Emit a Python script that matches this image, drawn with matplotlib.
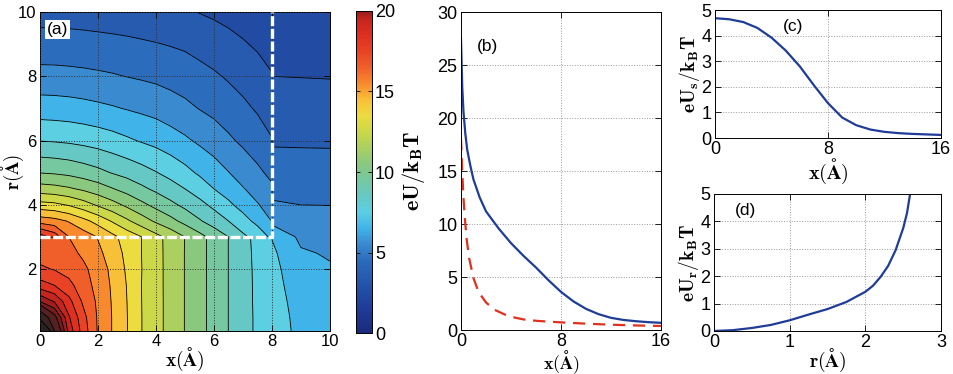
import numpy as np
import matplotlib
matplotlib.use("Agg")
import matplotlib.pyplot as plt
from matplotlib.colors import LinearSegmentedColormap, Normalize
from matplotlib.cm import ScalarMappable

plt.rcParams['font.family'] = ['Liberation Sans', 'DejaVu Sans']
plt.rcParams['mathtext.fontset'] = 'cm'
plt.rcParams['xtick.direction'] = 'in'
plt.rcParams['ytick.direction'] = 'in'

# ---- panel (a): potential map, U(x, r) ----
x_grid = [0, 0.5, 1, 1.5, 2, 2.5, 3, 3.5, 4, 4.5, 5, 5.5, 6, 6.5, 7, 7.5, 7.99, 8.01, 9, 10]
r_grid = [0.08, 0.5, 1, 1.5, 2, 2.5, 2.99, 3.01, 3.5, 4, 4.5, 5, 6, 7, 8, 9, 10]
U_grid = [
    [40, 24, 19.6, 17.5, 15.9, 14.95, 14.04, 13.02, 12.34, 11.66, 10.97, 10.32, 9.66, 8.99, 8.35, 7.84, 7.49, 7.48, 6.75, 6.45],
    [26, 22.5, 19.1, 17.3, 15.88, 14.95, 14.03, 13.02, 12.34, 11.66, 10.97, 10.32, 9.66, 8.99, 8.35, 7.84, 7.48, 7.47, 6.7, 6.4],
    [20.95, 19.9, 18.3, 16.8, 15.82, 14.91, 14.0, 13.01, 12.34, 11.66, 10.97, 10.32, 9.66, 8.99, 8.35, 7.82, 7.45, 7.43, 6.6, 6.33],
    [18.44, 18.0, 17.3, 16.4, 15.7, 14.85, 13.96, 13.0, 12.33, 11.66, 10.97, 10.32, 9.66, 8.99, 8.35, 7.81, 7.4, 7.38, 6.45, 6.22],
    [17.17, 16.95, 16.6, 16.2, 15.56, 14.74, 13.86, 13.02, 12.33, 11.66, 10.97, 10.32, 9.66, 8.99, 8.35, 7.79, 7.33, 7.31, 6.3, 6.1],
    [16.6, 16.5, 16.3, 15.82, 15.24, 14.52, 13.75, 13.0, 12.32, 11.66, 10.97, 10.32, 9.66, 8.99, 8.35, 7.75, 7.2, 7.18, 6.12, 5.9],
    [16.5, 16.4, 16.0, 15.5, 14.95, 14.25, 13.6, 13.0, 12.3, 11.66, 10.98, 10.32, 9.65, 8.99, 8.35, 7.68, 7.0, 6.95, 5.78, 5.61],
    [18.5, 17.6, 16.0, 15.5, 14.95, 14.25, 13.6, 13.0, 12.3, 11.66, 10.98, 10.32, 9.65, 8.99, 8.2, 7.6, 6.8, 6.9, 5.77, 5.6],
    [15.57, 15.35, 14.92, 14.29, 13.64, 12.9, 12.17, 11.47, 10.84, 10.3, 9.7, 9.1, 8.54, 8.0, 7.36, 6.73, 5.98, 5.67, 5.38, 5.3],
    [13.38, 13.25, 12.92, 12.44, 11.88, 11.36, 10.8, 10.24, 9.73, 9.24, 8.77, 8.29, 7.77, 7.19, 6.65, 6.07, 5.57, 5.1, 5.0, 4.99],
    [11.45, 11.34, 11.13, 10.83, 10.47, 10.05, 9.64, 9.2, 8.8, 8.42, 8.0, 7.54, 7.0, 6.58, 6.06, 5.62, 5.16, 4.76, 4.7, 4.7],
    [9.98, 9.9, 9.76, 9.53, 9.27, 8.95, 8.68, 8.38, 8.05, 7.69, 7.29, 6.86, 6.47, 6.03, 5.61, 5.19, 4.78, 4.45, 4.42, 4.41],
    [7.97, 7.92, 7.84, 7.72, 7.57, 7.38, 7.15, 6.92, 6.71, 6.44, 6.16, 5.84, 5.52, 5.16, 4.82, 4.5, 4.06, 3.89, 3.88, 3.87],
    [6.49, 6.46, 6.41, 6.32, 6.21, 6.09, 5.95, 5.81, 5.67, 5.46, 5.23, 4.97, 4.75, 4.5, 4.21, 3.89, 3.55, 3.44, 3.43, 3.42],
    [5.33, 5.32, 5.28, 5.23, 5.16, 5.08, 4.98, 4.89, 4.79, 4.65, 4.51, 4.33, 4.13, 3.89, 3.64, 3.36, 3.05, 3.0, 2.98, 2.96],
    [4.42, 4.41, 4.39, 4.35, 4.31, 4.26, 4.2, 4.12, 4.04, 3.95, 3.85, 3.66, 3.47, 3.28, 3.08, 2.88, 2.7, 2.65, 2.62, 2.6],
    [3.6, 3.6, 3.58, 3.55, 3.5, 3.45, 3.4, 3.35, 3.3, 3.2, 3.1, 2.97, 2.85, 2.72, 2.6, 2.48, 2.35, 2.3, 2.3, 2.28],
]
channel_x = [0, 8, 8]
channel_r = [3, 3, 10]

# ---- panel (b): on-axis potential ----
xb_total = [0, 0.1, 0.2, 0.35, 0.5, 0.75, 1.0, 1.5, 2.0, 3.0, 4.0, 5.0, 6.0, 7.0, 8.0,
            9.0, 10.0, 11.0, 12.0, 13.0, 14.0, 15.0, 16.0]
Ub_total = [27.5, 23.0, 20.6, 18.5, 17.0, 15.5, 14.2, 12.5, 11.2, 9.6, 8.2, 7.0, 5.9, 4.7, 3.6,
            2.7, 2.0, 1.5, 1.15, 0.95, 0.83, 0.74, 0.68]
xb_bulk = [0, 0.1, 0.2, 0.3, 0.45, 0.65, 1.0, 1.4, 2.0, 2.7, 3.8, 5.0, 6.0, 8.0, 10.0, 12.0, 14.0, 16.0]
Ub_bulk = [18.1, 14.9, 12.5, 10.7, 8.6, 6.8, 4.9, 3.6, 2.6, 1.9, 1.3, 1.0, 0.87, 0.72, 0.6, 0.5, 0.43, 0.38]

# ---- panel (c) ----
xc = [0, 1, 2, 3, 4, 5, 6, 7, 8, 9, 10, 11, 12, 13, 14, 15, 16]
Uc = [4.68, 4.64, 4.53, 4.3, 3.92, 3.42, 2.8, 2.06, 1.36, 0.8, 0.5, 0.33, 0.24, 0.19, 0.16, 0.14, 0.12]

# ---- panel (d) ----
rd = [0, 0.25, 0.5, 0.75, 1.0, 1.25, 1.5, 1.75, 2.0, 2.1, 2.2, 2.3, 2.4, 2.5, 2.55, 2.6]
Ud = [0, 0.03, 0.11, 0.22, 0.39, 0.6, 0.8, 1.06, 1.43, 1.65, 1.97, 2.37, 2.95, 3.75, 4.3, 5.15]

# colours
cb_vals = [0, 1.5, 3, 4.5, 5.5, 6.5, 7.5, 8.5, 9.5, 10.5, 11.5, 12.5, 13.5, 14.5,
           15.5, 16.5, 17.5, 18.5, 19.5, 20]
cb_cols = ['#1b2a7c', '#1f3c98', '#2354aa', '#2c6cbc', '#3a8ad0', '#40b4e8', '#5ccfe4',
           '#66c8c4', '#76c8a0', '#8ac880', '#aad060', '#cad848', '#ecdc40', '#f8c038',
           '#f88a2c', '#f0602a', '#e84424', '#de3020', '#c8261e', '#9a1c1c']
cmap = LinearSegmentedColormap.from_list('pot', list(zip(np.array(cb_vals) / 20.0, cb_cols)))
levels = list(range(0, 21)) + [21, 22, 24, 28, 100]
band_cols = [cmap((k + 0.5) / 20.0) for k in range(20)] + \
            ['#a01e1e', '#7a1c1c', '#562020', '#3a2222', '#2a2222']

blue = '#1f3c96'
red = '#e0301e'


def style(ax, fs):
    ax.tick_params(top=True, right=True, labelsize=fs, length=4, width=0.6, pad=2.5)
    for s in ax.spines.values():
        s.set_linewidth(0.7)


def labels(ax, xl, yl, xpos, ypos, xfs, yfs):
    ax.set_xlabel(xl, fontsize=xfs)
    ax.set_ylabel(yl, fontsize=yfs)
    ax.xaxis.label.set_va('center')
    ax.yaxis.label.set_va('center')
    ax.xaxis.set_label_coords(0.5, xpos)
    ax.yaxis.set_label_coords(ypos, 0.5)


fig = plt.figure(figsize=(9.54, 3.74), dpi=100)

# (a)
ax = fig.add_axes([0.0419, 0.115, 0.304, 0.853])
X, R = np.meshgrid(x_grid, r_grid)
U = np.array(U_grid)
ax.contourf(X, R, U, levels=levels, colors=band_cols)
ax.contour(X, R, U, levels=levels[1:-1], colors='k', linewidths=0.6)
ax.plot(channel_x, channel_r, color='white', lw=2.4, ls=(0, (3, 0.8)), zorder=4)
ax.set_xlim(0, 10)
ax.set_ylim(0.08, 10)
ax.set_xticks([0, 2, 4, 6, 8, 10])
ax.set_yticks([2, 4, 6, 8, 10])
ax.grid(True, ls=':', color='#303030', lw=0.7)
ax.set_axisbelow(False)
style(ax, 12)
ax.text(0.25, 9.45, '(a)', fontsize=12.5, va='center',
        bbox=dict(facecolor='white', edgecolor='none', pad=1.2))
labels(ax, r'$\mathbf{x(\AA)}$', r'$\mathbf{r(\AA)}$', -0.090, -0.094, 14, 13.5)

# colorbar
cax = fig.add_axes([0.3732, 0.1096, 0.0168, 0.861])
cb = fig.colorbar(ScalarMappable(norm=Normalize(0, 20), cmap=cmap), cax=cax, ticks=[0, 5, 10, 15, 20])
cb.ax.tick_params(labelsize=13, direction='in', left=True, right=True, length=3, width=0.6, pad=2)
cb.outline.set_linewidth(0.7)

# (b)
ax = fig.add_axes([0.4832, 0.1176, 0.2096, 0.8503])
ax.plot(xb_total, Ub_total, color=blue, lw=1.6)
ax.plot(xb_bulk, Ub_bulk, color=red, lw=1.6, ls=(0, (5.5, 3.5)))
ax.set_xlim(0, 16)
ax.set_ylim(0, 30)
ax.set_xticks([0, 8, 16])
ax.set_yticks(range(0, 31, 5))
ax.grid(True, ls=':', color='#999999', lw=0.7)
style(ax, 13)
ax.tick_params(axis='x', pad=2)
ax.text(2.16, 26.7, '(b)', fontsize=12.5, ha='center', va='center')
labels(ax, r'$\mathbf{x(\AA)}$', r'$\mathbf{eU/k_BT}$', -0.100, -0.2375, 13, 16)

# (c)
ax = fig.add_axes([0.7495, 0.631, 0.2369, 0.3422])
ax.plot(xc, Uc, color=blue, lw=1.6)
ax.set_xlim(0, 16)
ax.set_ylim(0, 5)
ax.set_xticks([0, 8, 16])
ax.set_yticks(range(0, 6))
ax.grid(True, ls=':', color='#999999', lw=0.7)
style(ax, 13)
ax.text(5.5, 4.37, '(c)', fontsize=12.5, ha='center', va='center')
labels(ax, r'$\mathbf{x(\AA)}$', r'$\mathbf{eU_s/k_BT}$', -0.262, -0.111, 14.5, 14)

# (d)
ax = fig.add_axes([0.7484, 0.115, 0.238, 0.3663])
ax.plot(rd, Ud, color=blue, lw=1.6)
ax.set_xlim(0, 3)
ax.set_ylim(0, 5)
ax.set_xticks([0, 1, 2, 3])
ax.set_yticks(range(0, 6))
ax.grid(True, ls=':', color='#999999', lw=0.7)
style(ax, 13)
ax.text(0.42, 4.38, '(d)', fontsize=12.5, ha='center', va='center')
labels(ax, r'$\mathbf{r(\AA)}$', r'$\mathbf{eU_r/k_BT}$', -0.212, -0.110, 14, 14)

fig.savefig('out.png', dpi=100)
